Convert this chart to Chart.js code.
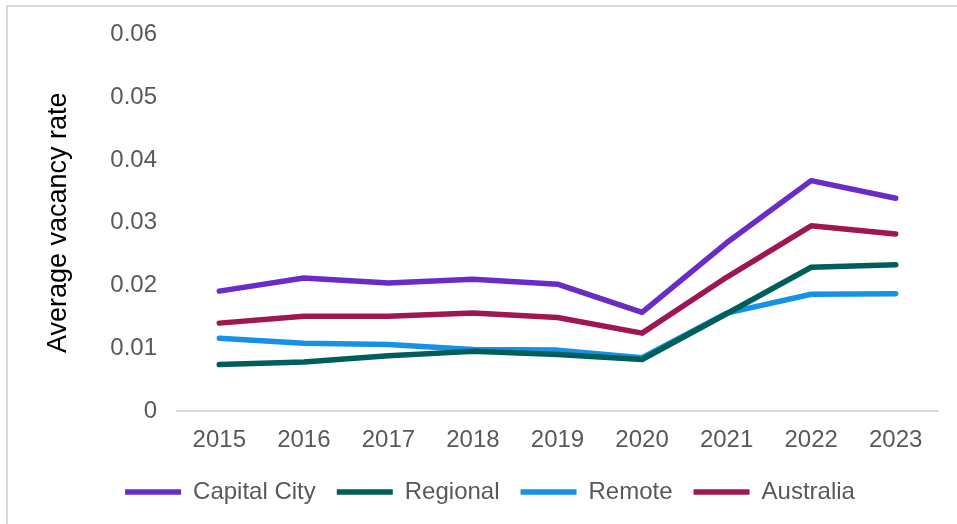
<!DOCTYPE html>
<html lang="en">
<head>
  <meta charset="UTF-8">
  <title>Average vacancy rate</title>
  <script src="https://cdn.jsdelivr.net/npm/chart.js"></script>
  <style>
    html, body { margin: 0; padding: 0; background: #fff; overflow: hidden; }
    #frame { position: absolute; left: 6px; top: 5px; width: 980px; height: 560px; border: 2px solid #d9d9d9; }
    #wrap { position: absolute; left: 0; top: 0; width: 957px; height: 524px; }
  </style>
</head>
<body>
  <div id="frame"></div>
  <div id="wrap"><canvas id="vacancyChart"></canvas></div>

  <script>
    const years = ['2015', '2016', '2017', '2018', '2019', '2020', '2021', '2022', '2023'];
    const capitalCity = [0.0191, 0.0212, 0.0204, 0.0210, 0.0202, 0.0157, 0.0268, 0.0367, 0.0339];
    const regional    = [0.0074, 0.0078, 0.0088, 0.0095, 0.0090, 0.0082, 0.0155, 0.0229, 0.0233];
    const remote      = [0.0116, 0.0108, 0.0106, 0.0098, 0.0097, 0.0085, 0.0156, 0.0186, 0.0187];
    const australia   = [0.0140, 0.0151, 0.0151, 0.0156, 0.0149, 0.0124, 0.0213, 0.0295, 0.0282];
    const yTicks = [0, 0.01, 0.02, 0.03, 0.04, 0.05, 0.06];

    const font = '"Liberation Sans", Arial, sans-serif';

    function series(label, data, color) {
      return {
        label: label,
        data: data,
        borderColor: color,
        backgroundColor: color,
        borderWidth: 5.5,
        borderCapStyle: 'round',
        borderJoinStyle: 'round',
        pointRadius: 0,
        tension: 0,
        fill: false
      };
    }

    const ctx = document.getElementById('vacancyChart').getContext('2d');
    new Chart(ctx, {
      type: 'line',
      data: {
        labels: years,
        datasets: [
          series('Capital City', capitalCity, '#6a2bc8'),
          series('Regional', regional, '#005e5a'),
          series('Remote', remote, '#1592e6'),
          series('Australia', australia, '#9e1652')
        ]
      },
      options: {
        responsive: true,
        maintainAspectRatio: false,
        animation: false,
        layout: { padding: { top: 34, right: 19, bottom: 10, left: 42 } },
        plugins: {
          tooltip: { enabled: false },
          legend: {
            position: 'bottom',
            labels: {
              usePointStyle: true,
              pointStyle: 'line',
              pointStyleWidth: 56,
              padding: 21,
              color: '#595959',
              font: { family: font, size: 24 }
            }
          }
        },
        scales: {
          x: {
            offset: true,
            grid: { display: false },
            border: { display: true, color: '#d9d9d9', width: 2 },
            afterFit: (scale) => { scale.height = 48; },
            ticks: {
              color: '#595959',
              padding: 7,
              font: { family: font, size: 24 }
            }
          },
          y: {
            min: 0,
            max: 0.06,
            afterBuildTicks: (scale) => { scale.ticks = yTicks.map(v => ({ value: v })); },
            grid: { display: false, drawTicks: false },
            border: { display: false },
            afterFit: (scale) => { scale.width = 177 - 42; },
            ticks: {
              color: '#595959',
              padding: 20,
              font: { family: font, size: 24 },
              callback: (v) => v === 0 ? '0' : v.toFixed(2)
            },
            title: {
              display: true,
              text: 'Average vacancy rate',
              color: '#000000',
              padding: 0,
              font: { family: font, size: 27 }
            }
          }
        }
      }
    });
  </script>
</body>
</html>
